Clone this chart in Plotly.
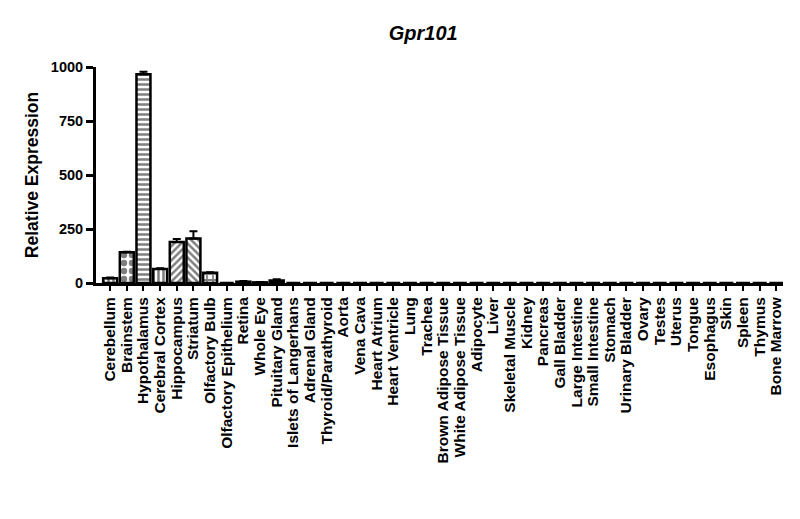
import plotly.graph_objects as go

tissues = ["Cerebellum", "Brainstem", "Hypothalamus", "Cerebral Cortex", "Hippocampus",
           "Striatum", "Olfactory Bulb", "Olfactory Epithelium", "Retina", "Whole Eye",
           "Pituitary Gland", "Islets of Langerhans", "Adrenal Gland", "Thyroid/Parathyroid",
           "Aorta", "Vena Cava", "Heart Atrium", "Heart Ventricle", "Lung", "Trachea",
           "Brown Adipose Tissue", "White Adipose Tissue", "Adipocyte", "Liver",
           "Skeletal Muscle", "Kidney", "Pancreas", "Gall Bladder", "Large Intestine",
           "Small Intestine", "Stomach", "Urinary Bladder", "Ovary", "Testes", "Uterus",
           "Tongue", "Esophagus", "Skin", "Spleen", "Thymus", "Bone Marrow"]

expression = [22, 142, 966, 65, 190, 206, 47, 0, 6, 3,
              12, 0, 0, 0, 0, 0, 0, 0, 0, 0,
              0, 0, 0, 0, 0, 0, 0, 0, 0, 0,
              0, 0, 0, 0, 0, 0, 0, 0, 0, 0, 0]

sem = [4, 3, 12, 3, 14, 34, 3, 0, 3, 2,
       5, 0, 0, 0, 0, 0, 0, 0, 0, 0,
       0, 0, 0, 0, 0, 0, 0, 0, 0, 0,
       0, 0, 0, 0, 0, 0, 0, 0, 0, 0, 0]

patterns = ["|", ".", "-", "|", "/", "\\", "+", "", "", "",
            "", "", "", "", "", "", "", "", "", "",
            "", "", "", "", "", "", "", "", "", "",
            "", "", "", "", "", "", "", "", "", "", ""]

pattern_sizes = [5, 8, 5, 5, 5, 5, 6, 5, 5, 5,
                 5, 5, 5, 5, 5, 5, 5, 5, 5, 5,
                 5, 5, 5, 5, 5, 5, 5, 5, 5, 5,
                 5, 5, 5, 5, 5, 5, 5, 5, 5, 5, 5]

y_ticks = [0, 250, 500, 750, 1000]

fig = go.Figure()
fig.add_trace(go.Bar(
    x=list(range(len(tissues))),
    y=expression,
    width=0.84,
    marker=dict(
        color="white",
        line=dict(color="black", width=2.5),
        pattern=dict(shape=patterns, fgcolor="black", bgcolor="white",
                     size=pattern_sizes, solidity=0.5, fillmode="overlay"),
    ),
    error_y=dict(type="data", array=sem, arrayminus=[0] * len(sem), symmetric=False,
                 color="black", thickness=2, width=4),
))

fig.update_layout(
    width=800, height=519,
    paper_bgcolor="white", plot_bgcolor="white",
    margin=dict(l=88, r=25, t=59, b=244),
    showlegend=False,
    title=dict(text="<b><i>Gpr101</i></b>", x=0.519, xanchor="center", y=0.952, yanchor="middle",
               font=dict(family="Liberation Sans, Arial", size=20, color="black")),
    font=dict(family="Liberation Sans, Arial", color="black"),
    xaxis=dict(
        range=[-0.85, 40.4],
        tickmode="array", tickvals=list(range(len(tissues))),
        ticktext=["<b>%s</b>" % t for t in tissues],
        tickangle=-90, tickfont=dict(size=15.5),
        ticks="outside", ticklen=5, tickwidth=2, tickcolor="black",
        showline=True, linecolor="black", linewidth=3,
        showgrid=False, zeroline=False, automargin=False,
    ),
    yaxis=dict(
        range=[0, 1000],
        tickmode="array", tickvals=y_ticks, ticktext=["<b>%d</b>" % v for v in y_ticks],
        tickfont=dict(size=14.5),
        ticks="outside", ticklen=7, tickwidth=3, tickcolor="black",
        showline=True, linecolor="black", linewidth=3,
        showgrid=False, zeroline=False, automargin=False,
        title=dict(text="<b>Relative Expression</b>", font=dict(size=17.5), standoff=8),
    ),
)

fig.write_html("out.html")
